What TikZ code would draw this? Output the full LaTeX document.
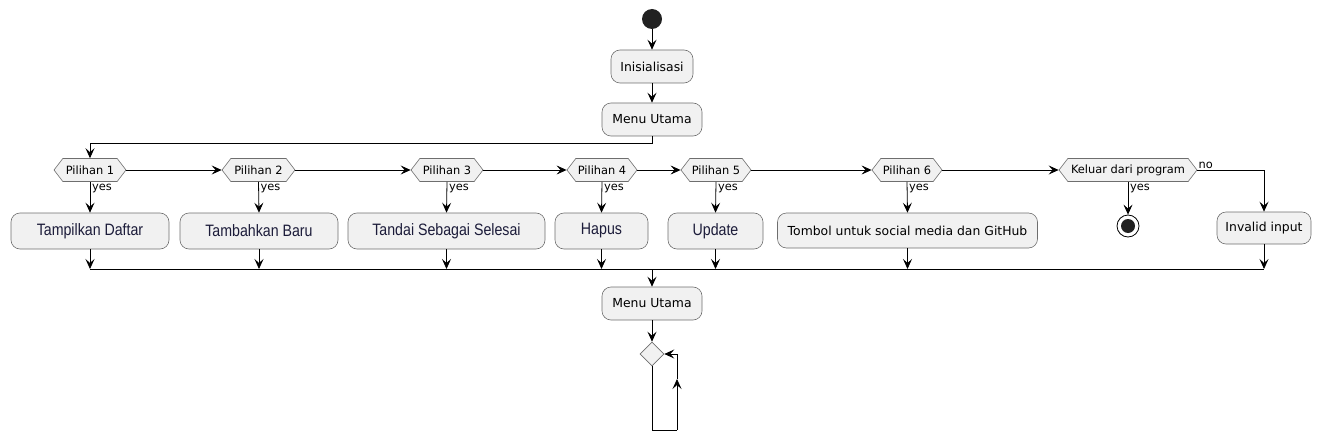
\documentclass[tikz,border=0pt]{standalone}
\usepackage{fontspec}
\setmainfont{DejaVu Sans}
\newfontfamily\narrowfont[FakeStretch=0.86]{Liberation Sans}
\usetikzlibrary{arrows.meta,shapes.symbols,shapes.geometric}
\definecolor{actfill}{HTML}{F1F1F1}
\definecolor{bordr}{HTML}{6E6E6E}
\definecolor{navytext}{HTML}{1C1C3A}
\begin{document}
\begin{tikzpicture}[x=1pt,y=-1pt,
  act/.style={draw=bordr, fill=actfill, rounded corners=9pt, minimum height=33pt, inner xsep=4pt, inner ysep=2pt, line width=0.6pt, font=\fontsize{12.4}{14}\selectfont},
  big/.style={act, minimum height=36pt, font=\narrowfont\fontsize{16.5}{18}\selectfont, text=navytext},
  hex/.style={signal, signal to=west and east, signal pointer angle=105, draw=bordr, fill=actfill, minimum height=23pt, inner xsep=2pt, inner ysep=1pt, line width=0.6pt, font=\fontsize{11.4}{13}\selectfont},
  arr/.style={-{Stealth[length=10pt,width=9pt,inset=4pt]}, line width=0.8pt},
  ln/.style={line width=0.8pt},
  lbl/.style={font=\fontsize{11.4}{13}\selectfont, inner sep=1pt},
  startc/.style={circle, fill=black!87, minimum size=20pt, inner sep=0pt},
  decis/.style={diamond, draw=bordr, fill=actfill, minimum size=24pt, inner sep=0pt, line width=0.6pt}
]
\useasboundingbox (0,0) rectangle (1322,441);
\node[startc] (start) at (652,19) {};
\node[act, minimum width=82] (init) at (652,66.5) {Inisialisasi};
\node[act, minimum width=100] (menu) at (652,119.5) {Menu Utama};

\node[hex, minimum width=72] (p1) at (90,170) {Pilihan 1};
\node[hex, minimum width=73] (p2) at (258.5,170) {Pilihan 2};
\node[hex, minimum width=72] (p3) at (447,170) {Pilihan 3};
\node[hex, minimum width=70] (p4) at (602,170) {Pilihan 4};
\node[hex, minimum width=68] (p5) at (716,170) {Pilihan 5};
\node[hex, minimum width=70] (p6) at (907,170) {Pilihan 6};
\node[hex, minimum width=138] (p7) at (1128,170) {Keluar dari program};

\node[big, minimum width=158] (b1) at (90,231) {Tampilkan Daftar};
\node[big, minimum width=158] (b2) at (259,231) {Tambahkan Baru};
\node[big, minimum width=197] (b3) at (446.5,231) {Tandai Sebagai Selesai};
\node[big, minimum width=93] (b4) at (601.5,231) {Hapus};
\node[big, minimum width=95] (b5) at (715.5,231) {Update};
\node[act, minimum width=260, minimum height=35] (b6) at (907.5,230.5) {Tombol untuk social media dan GitHub};
\node[circle, draw=black, line width=0.8pt, fill=white, minimum size=22pt, inner sep=0pt] (endc) at (1128,226) {};
\node[circle, fill=black!87, minimum size=14pt, inner sep=0pt] (endi) at (endc) {};
\node[act, minimum width=94, minimum height=32] (inv) at (1264,228) {Invalid input};

\coordinate (m) at (652,269);
\node[act, minimum width=100] (menu2) at (652,303.5) {Menu Utama};
\node[decis] (d) at (652,354) {};
\coordinate (lb) at (652,430);
\coordinate (lr) at (677,430);
\coordinate (lm) at (677,379);
\coordinate (lt) at (677,354);

\draw[arr] (start) -- (init);
\draw[arr] (init) -- (menu);
\draw[arr] (menu.south) -- ++(0,7) -| (p1.north);
\draw[arr] (p1.east) -- (p2.west);
\draw[arr] (p2.east) -- (p3.west);
\draw[arr] (p3.east) -- (p4.west);
\draw[arr] (p4.east) -- (p5.west);
\draw[arr] (p5.east) -- (p6.west);
\draw[arr] (p6.east) -- (p7.west);
\draw[arr] (p7.east) -| (inv.north);
\node[lbl, anchor=south west] at (p7.east) {no};

\foreach \p/\b in {p1/b1,p2/b2,p3/b3,p4/b4,p5/b5,p6/b6,p7/endc}{
  \draw[arr] (\p.south) -- (\b.north);
  \node[lbl, anchor=north west] at ([xshift=1pt,yshift=-1.5pt]\p.south) {yes};
}
\foreach \b in {b1,b2,b3,b4,b5,b6,inv}{
  \draw[arr] (\b.south) -- (\b.south |- m);
}
\draw[ln] (b1.south |- m) -- (inv.south |- m);
\draw[arr] (m) -- (menu2);
\draw[arr] (menu2) -- (d);
\draw[ln] (d.south) -- (lb) -- (lr);
\draw[arr] (lr) -- (lm);
\draw[ln] (lm) -- (lt);
\draw[arr] (lt) -- (d.east);
\end{tikzpicture}
\end{document}
